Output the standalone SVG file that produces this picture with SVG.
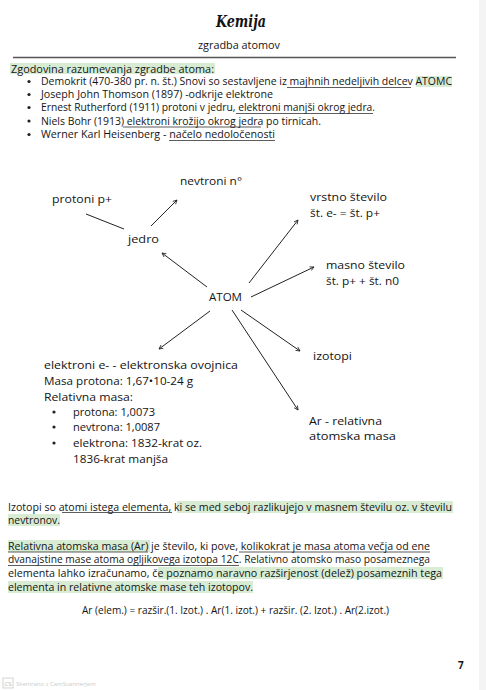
<svg xmlns="http://www.w3.org/2000/svg" width="486" height="690" viewBox="0 0 486 690">
<defs>
<marker id="ah" viewBox="0 0 10 10" refX="9" refY="5" markerWidth="5" markerHeight="5" orient="auto" markerUnits="userSpaceOnUse">
<path d="M1,1 L9,5 L1,9" fill="none" stroke="#222" stroke-width="1.6"/>
</marker>
<style>
text{font-family:"Open Sans","Noto Sans","DejaVu Sans",sans-serif;font-size:10px;font-weight:500;fill:#141414}
.d{font-size:10.5px}
.hl{fill:#d8ecd4}
.ul{stroke:#333;stroke-width:0.8}
.c{stroke:#222;stroke-width:1;fill:none}
.a{marker-end:url(#ah)}
</style>
</defs>
<rect width="486" height="690" fill="#ffffff"/>
<rect x="479" y="0" width="7" height="690" fill="#f4f4f4"/>

<g id="header">
<text x="216" y="27" textLength="50" lengthAdjust="spacingAndGlyphs" style="font-family:'DejaVu Serif',serif;font-style:italic;font-weight:bold;font-size:16px">Kemija</text>
<text x="198" y="48.5" textLength="82" lengthAdjust="spacingAndGlyphs">zgradba atomov</text>
<line x1="13" y1="57.5" x2="456" y2="57.5" stroke="#555" stroke-width="1.4"/>
</g>

<g id="history">
<rect class="hl" x="10" y="63" width="205" height="11"/>
<rect class="hl" x="416" y="76" width="36" height="11"/>
<text x="11" y="72.5" textLength="203" lengthAdjust="spacingAndGlyphs">Zgodovina razumevanja zgradbe atoma:</text>
<g fill="#222"><circle cx="29" cy="81.5" r="1.6"/><circle cx="29" cy="94.5" r="1.6"/><circle cx="29" cy="107.5" r="1.6"/><circle cx="29" cy="121" r="1.6"/><circle cx="29" cy="134.5" r="1.6"/></g>
<text x="41" y="85" textLength="411" lengthAdjust="spacingAndGlyphs">Demokrit (470-380 pr. n. št.) Snovi so sestavljene iz majhnih nedeljivih delcev ATOMC</text>
<text x="41" y="98" textLength="232" lengthAdjust="spacingAndGlyphs">Joseph John Thomson (1897) -odkrije elektrone</text>
<text x="41" y="111" textLength="334" lengthAdjust="spacingAndGlyphs">Ernest Rutherford (1911) protoni v jedru, elektroni manjši okrog jedra.</text>
<text x="41" y="124.5" textLength="280" lengthAdjust="spacingAndGlyphs">Niels Bohr (1913) elektroni krožijo okrog jedra po tirnicah.</text>
<text x="41" y="138" textLength="234" lengthAdjust="spacingAndGlyphs">Werner Karl Heisenberg - načelo nedoločenosti</text>
<line class="ul" x1="287" y1="87.5" x2="411" y2="87.5"/>
<line class="ul" x1="236" y1="113.5" x2="373" y2="113.5"/>
<line class="ul" x1="123" y1="127" x2="261" y2="127"/>
<line class="ul" x1="169" y1="140.5" x2="275" y2="140.5"/>
</g>

<g id="connectors">
<line class="c" x1="124" y1="229" x2="86" y2="214"/>
<line class="c a" x1="151" y1="226" x2="177" y2="200"/>
<line class="c a" x1="207" y1="287" x2="162" y2="253"/>
<line class="c a" x1="249" y1="283" x2="298" y2="220"/>
<line class="c a" x1="251" y1="297" x2="314" y2="267"/>
<line class="c a" x1="210" y1="311" x2="159" y2="349"/>
<line class="c a" x1="232" y1="310" x2="298" y2="410"/>
<line class="c a" x1="241" y1="310" x2="300" y2="351"/>
</g>

<g id="nevtroni"><text class="d" x="180" y="184.5" textLength="62" lengthAdjust="spacingAndGlyphs">nevtroni n°</text></g>
<g id="protoni"><text class="d" x="52" y="202.5" textLength="60" lengthAdjust="spacingAndGlyphs">protoni p+</text></g>
<g id="vrstno">
<text class="d" x="310" y="200.5" textLength="77" lengthAdjust="spacingAndGlyphs">vrstno število</text>
<text class="d" x="310" y="216.5" textLength="70" lengthAdjust="spacingAndGlyphs">št. e- = št. p+</text>
</g>
<g id="jedro"><text class="d" x="128" y="242.5" textLength="31" lengthAdjust="spacingAndGlyphs">jedro</text></g>
<g id="masno">
<text class="d" x="326" y="268.5" textLength="79" lengthAdjust="spacingAndGlyphs">masno število</text>
<text class="d" x="326" y="284.5" textLength="73" lengthAdjust="spacingAndGlyphs">št. p+ + št. n0</text>
</g>
<g id="atom"><text class="d" x="209" y="301" textLength="33" lengthAdjust="spacingAndGlyphs">ATOM</text></g>
<g id="izotopi"><text class="d" x="313" y="359.5" textLength="39" lengthAdjust="spacingAndGlyphs">izotopi</text></g>
<g id="ar">
<text class="d" x="309" y="424.5" textLength="73" lengthAdjust="spacingAndGlyphs">Ar - relativna</text>
<text class="d" x="309" y="439.5" textLength="87" lengthAdjust="spacingAndGlyphs">atomska  masa</text>
</g>
<g id="elektroni">
<text class="d" x="44" y="368.5" textLength="194" lengthAdjust="spacingAndGlyphs">elektroni e- - elektronska ovojnica</text>
<text class="d" x="44" y="384.5" textLength="149" lengthAdjust="spacingAndGlyphs">Masa protona: 1,67•10-24 g</text>
<text class="d" x="44" y="400.5" textLength="89" lengthAdjust="spacingAndGlyphs">Relativna masa:</text>
<g fill="#222"><circle cx="54" cy="412" r="1.6"/><circle cx="54" cy="427" r="1.6"/><circle cx="54" cy="443" r="1.6"/></g>
<text class="d" x="73" y="415.5" textLength="82" lengthAdjust="spacingAndGlyphs">protona: 1,0073</text>
<text class="d" x="73" y="430.5" textLength="87" lengthAdjust="spacingAndGlyphs">nevtrona: 1,0087</text>
<text class="d" x="73" y="446.5" textLength="129" lengthAdjust="spacingAndGlyphs">elektrona: 1832-krat oz.</text>
<text class="d" x="73" y="462.5" textLength="95" lengthAdjust="spacingAndGlyphs">1836-krat manjša</text>
</g>

<g id="paragraphs">
<rect class="hl" x="177" y="501" width="276" height="12"/>
<rect class="hl" x="8" y="514" width="52" height="12"/>
<rect class="hl" x="8" y="540" width="142" height="12"/>
<rect class="hl" x="158" y="567" width="285" height="12"/>
<rect class="hl" x="8" y="581" width="245" height="12"/>
<text x="8" y="510.5" textLength="444" lengthAdjust="spacingAndGlyphs">Izotopi so atomi istega elementa, ki se med seboj razlikujejo v masnem številu oz. v številu</text>
<text x="8" y="523.5" textLength="52" lengthAdjust="spacingAndGlyphs">nevtronov.</text>
<line class="ul" x1="62" y1="512.5" x2="172" y2="512.5"/>
<text x="8" y="549.5" textLength="422" lengthAdjust="spacingAndGlyphs">Relativna atomska masa (Ar) je število, ki pove, kolikokrat je masa atoma večja od ene</text>
<text x="8" y="563" textLength="422" lengthAdjust="spacingAndGlyphs">dvanajstine mase atoma ogljikovega izotopa 12C. Relativno atomsko maso posameznega</text>
<text x="8" y="576.5" textLength="434" lengthAdjust="spacingAndGlyphs">elementa lahko izračunamo, če poznamo naravno razširjenost (delež) posameznih tega</text>
<text x="8" y="590.5" textLength="245" lengthAdjust="spacingAndGlyphs">elementa in relativne atomske mase teh izotopov.</text>
<line class="ul" x1="8" y1="552" x2="148" y2="552"/>
<line class="ul" x1="239" y1="552" x2="430" y2="552"/>
<line class="ul" x1="8" y1="565.5" x2="239" y2="565.5"/>
<text x="82" y="613.5" textLength="307" lengthAdjust="spacingAndGlyphs">Ar (elem.) = razšir.(1. Izot.) . Ar(1. izot.) + razšir. (2. Izot.) . Ar(2.izot.)</text>
</g>

<g id="footer">
<text x="458" y="669" style="font-size:10px;font-weight:bold">7</text>
<rect x="3" y="678" width="10" height="10" fill="none" stroke="#c8c8c8" stroke-width="0.8"/>
<text x="4.5" y="686" style="font-size:6px;fill:#bbb">CS</text>
<text x="16" y="686" style="font-size:6px;fill:#ccc">Skenirano z CamScannerjem</text>
</g>
</svg>
